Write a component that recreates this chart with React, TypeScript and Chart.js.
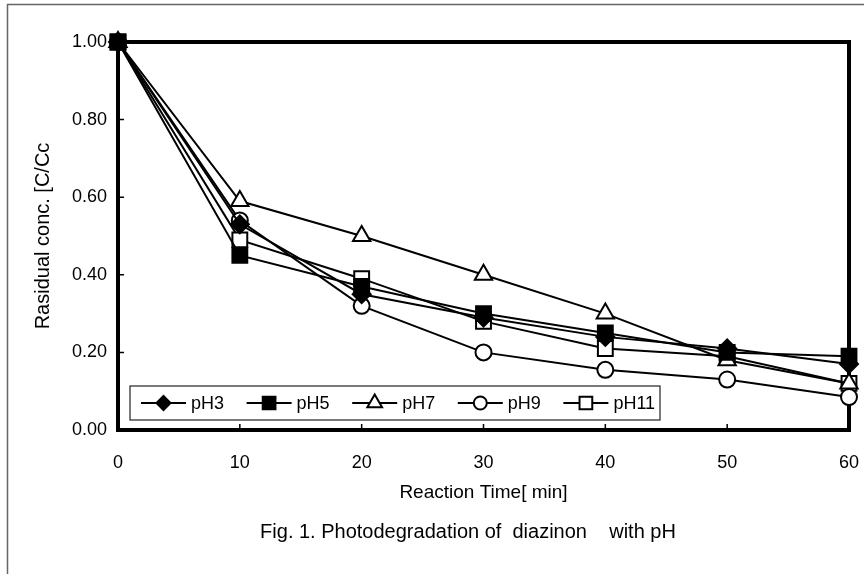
import React, { useEffect, useRef } from 'react';
import { Chart, registerables } from 'chart.js';

Chart.register(...registerables);

// ---- data ----
const times = [0, 10, 20, 30, 40, 50, 60];
const pH3 = [1.0, 0.53, 0.35, 0.29, 0.24, 0.21, 0.17];
const pH5 = [1.0, 0.45, 0.37, 0.3, 0.25, 0.2, 0.19];
const pH7 = [1.0, 0.59, 0.5, 0.4, 0.3, 0.18, 0.12];
const pH9 = [1.0, 0.54, 0.32, 0.2, 0.155, 0.13, 0.085];
const pH11 = [1.0, 0.49, 0.39, 0.28, 0.21, 0.19, 0.12];
const seriesNames = ['pH3', 'pH5', 'pH7', 'pH9', 'pH11'];
const xTitle = 'Reaction Time[ min]';
const yTitle = 'Rasidual conc. [C/Cc';
const caption = 'Fig. 1. Photodegradation of  diazinon    with pH';

const FONT = "'Liberation Sans', Arial, Helvetica, sans-serif";

type Style = { shape: string; fill: string; r: number; lr: number };
const styles: Style[] = [
  { shape: 'rectRot', fill: '#000', r: 9, lr: 7 },
  { shape: 'rect', fill: '#000', r: 10.5, lr: 9 },
  { shape: 'triangle', fill: '#fff', r: 10, lr: 8.5 },
  { shape: 'circle', fill: '#fff', r: 8, lr: 6.5 },
  { shape: 'rect', fill: '#fff', r: 10.5, lr: 9 },
];

function drawMarker(ctx: CanvasRenderingContext2D, shape: string, x: number, y: number, r: number, fill: string) {
  ctx.save();
  ctx.beginPath();
  if (shape === 'circle') {
    ctx.arc(x, y, r, 0, Math.PI * 2);
  } else if (shape === 'rect') {
    const s = r * Math.SQRT1_2;
    ctx.rect(x - s, y - s, 2 * s, 2 * s);
  } else if (shape === 'rectRot') {
    ctx.moveTo(x, y - r);
    ctx.lineTo(x + r, y);
    ctx.lineTo(x, y + r);
    ctx.lineTo(x - r, y);
    ctx.closePath();
  } else if (shape === 'triangle') {
    ctx.moveTo(x, y - r);
    ctx.lineTo(x + Math.sin((2 * Math.PI) / 3) * r, y + r / 2);
    ctx.lineTo(x - Math.sin((2 * Math.PI) / 3) * r, y + r / 2);
    ctx.closePath();
  }
  ctx.fillStyle = fill;
  ctx.fill();
  ctx.lineWidth = 2;
  ctx.strokeStyle = '#000';
  ctx.stroke();
  ctx.restore();
}

const framePlugin = {
  id: 'framePlugin',
  beforeDraw(chart: any) {
    const ctx = chart.ctx as CanvasRenderingContext2D;
    ctx.save();
    ctx.fillStyle = '#fff';
    ctx.fillRect(0, 0, chart.width, chart.height);
    ctx.strokeStyle = '#666';
    ctx.lineWidth = 1.5;
    ctx.beginPath();
    ctx.moveTo(7, 4.5);
    ctx.lineTo(chart.width, 4.5);
    ctx.moveTo(7.5, 4);
    ctx.lineTo(7.5, chart.height);
    ctx.stroke();
    ctx.restore();
  },
  beforeDatasetsDraw(chart: any) {
    const ctx = chart.ctx as CanvasRenderingContext2D;
    const a = chart.chartArea;
    const xs = chart.scales.x;
    const ys = chart.scales.y;
    ctx.save();
    ctx.strokeStyle = '#000';
    ctx.lineWidth = 1.5;
    ctx.beginPath();
    ys.ticks.forEach((t: any) => {
      const py = ys.getPixelForValue(t.value);
      ctx.moveTo(a.left, py);
      ctx.lineTo(a.left + 6, py);
    });
    xs.ticks.forEach((t: any) => {
      const px = xs.getPixelForValue(t.value);
      ctx.moveTo(px, a.bottom);
      ctx.lineTo(px, a.bottom - 6);
    });
    ctx.stroke();
    ctx.lineWidth = 4;
    ctx.strokeRect(a.left, a.top, a.right - a.left, a.bottom - a.top);
    ctx.restore();
  },
  afterDatasetsDraw(chart: any) {
    const ctx = chart.ctx as CanvasRenderingContext2D;
    const a = chart.chartArea;
    // legend box inside plot area
    const bx = a.left + 12;
    const by = a.bottom - 44;
    const bw = 530;
    const bh = 34;
    ctx.save();
    ctx.fillStyle = '#fff';
    ctx.fillRect(bx, by, bw, bh);
    ctx.strokeStyle = '#222';
    ctx.lineWidth = 1.2;
    ctx.strokeRect(bx, by, bw, bh);
    const cy = by + bh / 2;
    chart.data.datasets.forEach((ds: any, i: number) => {
      const st = styles[i];
      const x0 = bx + 11 + i * 105.6;
      ctx.strokeStyle = '#000';
      ctx.lineWidth = 2;
      ctx.beginPath();
      ctx.moveTo(x0, cy);
      ctx.lineTo(x0 + 45, cy);
      ctx.stroke();
      drawMarker(ctx, st.shape, x0 + 22.5, cy, st.lr, st.fill);
      ctx.fillStyle = '#000';
      ctx.font = `18px ${FONT}`;
      ctx.textAlign = 'left';
      ctx.textBaseline = 'middle';
      ctx.fillText(ds.label, x0 + 50, cy + 1);
    });
    // caption
    ctx.font = `20px ${FONT}`;
    ctx.textAlign = 'center';
    ctx.textBaseline = 'middle';
    ctx.fillStyle = '#000';
    ctx.fillText(caption, 468, 532);
    ctx.restore();
  },
};

export default function App() {
  const ref = useRef<HTMLCanvasElement | null>(null);
  useEffect(() => {
    if (!ref.current) return;
    const all = [pH3, pH5, pH7, pH9, pH11];
    const chart = new Chart(ref.current, {
      type: 'line',
      data: {
        datasets: all.map((vals, i) => ({
          label: seriesNames[i],
          data: times.map((t, j) => ({ x: t, y: vals[j] })),
          borderColor: '#000',
          borderWidth: 2,
          pointStyle: styles[i].shape as any,
          pointRadius: styles[i].r,
          pointHoverRadius: styles[i].r,
          pointBackgroundColor: styles[i].fill,
          pointBorderColor: '#000',
          pointBorderWidth: 2,
          tension: 0,
          clip: false as any,
          fill: false,
        })),
      },
      options: {
        animation: false,
        responsive: false,
        devicePixelRatio: 1,
        layout: { padding: { left: 0, top: 42, right: 15, bottom: 0 } },
        plugins: { legend: { display: false }, tooltip: { enabled: false }, title: { display: false } },
        scales: {
          x: {
            type: 'linear',
            min: 0,
            max: 60,
            grid: { display: false, drawTicks: false },
            border: { display: false },
            ticks: { stepSize: 10, padding: 22, color: '#000', font: { family: FONT, size: 18 } },
            title: { display: true, text: xTitle, color: '#000', font: { family: FONT, size: 19 }, padding: { top: 0, bottom: 70 } },
            afterFit: (s: any) => { s.height = 144; s.paddingRight = 0; s.paddingLeft = 0; },
          },
          y: {
            min: 0,
            max: 1,
            grid: { display: false, drawTicks: false },
            border: { display: false },
            ticks: { stepSize: 0.2, padding: 11, color: '#000', font: { family: FONT, size: 18 }, callback: (v: any) => Number(v).toFixed(2) },
            title: { display: true, text: yTitle, color: '#000', font: { family: FONT, size: 20 }, padding: { top: 31, bottom: 0 } },
            afterFit: (s: any) => { s.width = 118; s.paddingTop = 0; s.paddingBottom = 0; },
          },
        },
      },
      plugins: [framePlugin],
    });
    return () => chart.destroy();
  }, []);
  return (
    <div style={{ position: 'absolute', left: 0, top: 0, width: 864, height: 574, background: '#fff' }}>
      <canvas ref={ref} width={864} height={574} style={{ display: 'block', width: 864, height: 574 }} />
    </div>
  );
}
